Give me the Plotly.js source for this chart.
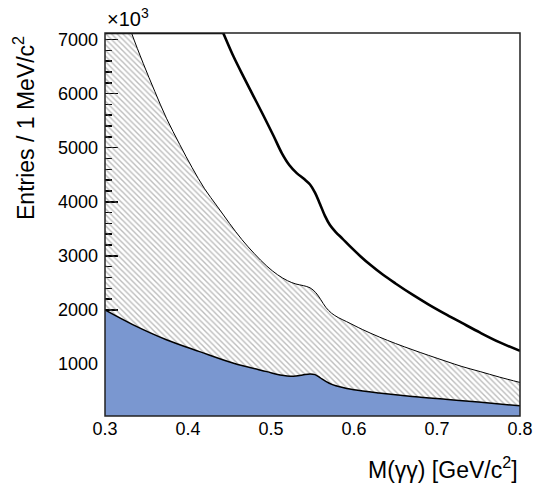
<!DOCTYPE html>
<html>
<head>
<meta charset="utf-8">
<script src="https://cdn.plot.ly/plotly-3.0.1.min.js"></script>
<style>html,body{margin:0;padding:0;background:#fff;}#chart{width:534px;height:484px;}</style>
</head>
<body>
<div id="chart"></div>
<script>
// Signal-like component (blue filled)
var xBlue = [0.30,0.334,0.374,0.414,0.455,0.495,0.511,0.527,0.538,0.547,0.553,0.559,0.566,0.574,0.584,0.60,0.63,0.67,0.71,0.75,0.80];
var yBlue = [2000,1725,1450,1230,1015,860,800,775,800,818,805,750,680,620,575,525,465,400,350,298,228];

// Middle curve (top of hatched band)
var xMid = [0.30,0.316,0.332,0.346,0.36,0.374,0.39,0.405,0.42,0.435,0.45,0.465,0.48,0.495,0.508,0.52,0.53,0.539,0.547,0.554,0.56,0.566,0.573,0.581,0.591,0.61,0.631,0.65,0.671,0.69,0.712,0.73,0.752,0.775,0.80];
var yMid = [8600,7850,7120,6560,6040,5545,5060,4630,4240,3920,3600,3300,3040,2810,2650,2540,2480,2450,2410,2320,2190,2050,1940,1860,1785,1640,1497,1380,1262,1160,1046,955,861,760,660];

// Top thick curve (total)
var xTop = [0.43,0.4425,0.455,0.467,0.479,0.491,0.503,0.513,0.522,0.531,0.54,0.547,0.553,0.559,0.565,0.571,0.578,0.586,0.595,0.608,0.62,0.635,0.65,0.671,0.69,0.712,0.73,0.752,0.775,0.80];
var yTop = [7580,7120,6680,6310,5950,5590,5220,4900,4680,4530,4420,4320,4170,3960,3740,3570,3440,3320,3180,2990,2830,2650,2490,2278,2100,1909,1760,1580,1405,1244];
// Part of the total curve above the frame, drawn along the top edge
var xTopClamp = [0.30,0.4425];
var yTopClamp = [7120,7120];

var xTicks = [0.3,0.4,0.5,0.6,0.7,0.8];
var xTickText = ['0.3','0.4','0.5','0.6','0.7','0.8'];
var yTicks = [1000,2000,3000,4000,5000,6000,7000];
var yTickText = ['1000','2000','3000','4000','5000','6000','7000'];

var FONT = 'Liberation Sans, Arial, sans-serif';

var traces = [
  {
    x: xBlue, y: yBlue, type: 'scatter', mode: 'lines',
    line: {color: '#000', width: 1.5, shape: 'spline', smoothing: 1.0},
    fill: 'tozeroy', fillcolor: '#7a97d0', hoverinfo: 'skip', showlegend: false
  },
  {
    x: xMid, y: yMid, type: 'scatter', mode: 'lines',
    line: {color: '#000', width: 1, shape: 'spline', smoothing: 1.0},
    fill: 'tonexty', fillcolor: 'rgba(0,0,0,0)',
    fillpattern: {shape: '\\', size: 4, solidity: 0.35, fgcolor: '#7a7a7a', bgcolor: 'rgba(0,0,0,0)', fillmode: 'overlay'},
    hoverinfo: 'skip', showlegend: false
  },
  {
    x: xTop, y: yTop, type: 'scatter', mode: 'lines',
    line: {color: '#000', width: 2.6, shape: 'spline', smoothing: 1.0},
    hoverinfo: 'skip', showlegend: false
  },
  {
    x: xTopClamp, y: yTopClamp, type: 'scatter', mode: 'lines',
    line: {color: '#000', width: 2.6},
    hoverinfo: 'skip', showlegend: false
  }
];

var layout = {
  width: 534, height: 484,
  margin: {l: 105, r: 14, t: 33, b: 68},
  paper_bgcolor: '#fff', plot_bgcolor: '#fff',
  font: {family: FONT, color: '#000', size: 18},
  xaxis: {
    range: [0.3, 0.8], tickvals: xTicks, ticktext: xTickText,
    ticks: '', showgrid: false, zeroline: false, showline: false,
    tickfont: {family: FONT, size: 18, color: '#000'}
  },
  yaxis: {
    range: [40, 7120], tickvals: yTicks, ticktext: yTickText,
    ticks: 'inside', ticklen: 13, tickwidth: 1.5, tickcolor: '#000',
    minor: {dtick: 200, ticks: 'inside', ticklen: 7, tickwidth: 1.5, tickcolor: '#000', showgrid: false},
    showgrid: false, zeroline: false, showline: false, layer: 'below traces',
    ticklabelstandoff: 6,
    tickfont: {family: FONT, size: 18, color: '#000'}
  },
  shapes: [
    {type: 'rect', xref: 'paper', yref: 'paper', x0: 0, x1: 1, y0: 0, y1: 1,
     line: {color: '#222', width: 1.5}, fillcolor: 'rgba(0,0,0,0)', layer: 'above'}
  ],
  annotations: [
    {text: 'Entries / 1 MeV/c<sup>2</sup>', xref: 'paper', yref: 'paper', x: 0, y: 1,
     xanchor: 'center', yanchor: 'top', xshift: -81, yshift: -1, textangle: -90,
     showarrow: false, font: {family: FONT, size: 23, color: '#000'}},
    {text: 'M(γγ) [GeV/c<sup>2</sup>]', xref: 'paper', yref: 'paper', x: 1, y: 0,
     xanchor: 'right', yanchor: 'middle', yshift: -52,
     showarrow: false, font: {family: FONT, size: 23, color: '#000'}},
    {text: '×10<sup>3</sup>', xref: 'paper', yref: 'paper', x: 0, y: 1,
     xanchor: 'left', yanchor: 'middle', xshift: 0, yshift: 16,
     showarrow: false, font: {family: FONT, size: 20, color: '#000'}}
  ]
};

Plotly.newPlot('chart', traces, layout, {staticPlot: true, displayModeBar: false});
</script>
</body>
</html>
